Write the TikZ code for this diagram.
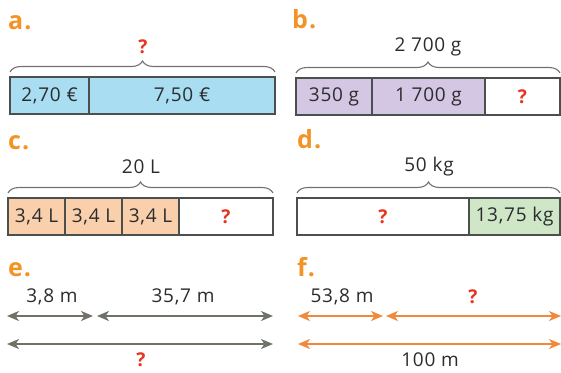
\documentclass[tikz,border=0pt]{standalone}
\usepackage{fontspec}
\setmainfont[LetterSpace=4]{Open Sans}
\usetikzlibrary{arrows.meta,positioning,decorations.pathreplacing}
\definecolor{BarInk}{HTML}{4B4F4E}
\definecolor{BarText}{HTML}{2A2C2E}
\definecolor{BarOrange}{HTML}{F39325}
\definecolor{BarRed}{HTML}{E8331F}
\definecolor{BarBlue}{HTML}{A9DDF2}
\definecolor{BarLilac}{HTML}{D4C7E3}
\definecolor{BarPeach}{HTML}{F9CFAC}
\definecolor{BarGreen}{HTML}{CFE7C6}
\definecolor{LineGrey}{HTML}{6E7368}
\definecolor{LineOrange}{HTML}{F0893A}
\tikzset{
  every node/.style={font=\fontsize{19}{22}\selectfont, text=BarText, inner sep=1pt},
  segment/.style={draw=BarInk, line width=1.2pt, minimum height=37pt, inner sep=0pt, outer sep=0pt, anchor=north west},
  barbrace/.style={draw=BarInk!80, line width=1.1pt, decorate, decoration={brace, amplitude=11pt}},
  panellabel/.style={text=BarOrange, font=\fontsize{25}{28}\selectfont\bfseries, anchor=base west, inner sep=0pt},
  query/.style={text=BarRed, font=\fontsize{19}{22}\selectfont\bfseries},
  span/.style={{Stealth[length=12pt,width=10pt,inset=3.5pt]}-{Stealth[length=12pt,width=10pt,inset=3.5pt]}, line width=1.8pt},
}
\begin{document}
\begin{tikzpicture}[x=1pt,y=-1pt]
  \useasboundingbox (0,0) rectangle (561,372);
  % Panel a: two known parts, total asked
  \node[panellabel] (la) at (8,29) {a.};
  \node[segment, fill=BarBlue, minimum width=79] (a1) at (10,77) {2,70 €};
  \node[segment, fill=BarBlue, minimum width=186, right=0pt of a1] (a2) {7,50 €};
  \draw[barbrace] ([yshift=5pt]a1.north west) -- ([yshift=5pt]a2.north east);
  \node[query] (atop) at (143,47) {?};
  % Panel b: total known, last part asked
  \node[panellabel] (lb) at (292,28) {b.};
  \node[segment, fill=BarLilac, minimum width=76] (b1) at (296,78) {350 g};
  \node[segment, fill=BarLilac, minimum width=113, right=0pt of b1] (b2) {1 700 g};
  \node[segment, fill=white, minimum width=75, right=0pt of b2] (b3) {\textcolor{BarRed}{\bfseries ?}};
  \draw[barbrace] ([yshift=5pt]b1.north west) -- ([yshift=5pt]b3.north east);
  \node (btop) at (428,47) {2 700 g};
  % Panel c: three equal parts and a rest
  \node[panellabel] (lc) at (8,149) {c.};
  \foreach \i in {0,1,2} {
    \node[segment, fill=BarPeach, minimum width=57] (c\i) at (8+57*\i,198) {3,4 L};
  }
  \node[segment, fill=white, minimum width=94, right=0pt of c2] (c3) {\textcolor{BarRed}{\bfseries ?}};
  \draw[barbrace] ([yshift=5pt]c0.north west) -- ([yshift=5pt]c3.north east);
  \node (ctop) at (141,167) {20 L};
  % Panel d: first part asked
  \node[panellabel] (ld) at (297,148) {d.};
  \node[segment, fill=white, minimum width=172] (d1) at (297,198) {\textcolor{BarRed}{\bfseries ?}};
  \node[segment, fill=BarGreen, minimum width=91, right=0pt of d1] (d2) {13,75 kg};
  \draw[barbrace] ([yshift=5pt]d1.north west) -- ([yshift=5pt]d2.north east);
  \node (dtop) at (429,167) {50 kg};
  % Panel e: two lengths, whole asked
  \node[panellabel] (le) at (8,276) {e.};
  \coordinate (e0) at (7,316);
  \coordinate (e1) at (93,316);
  \coordinate (e2) at (97,316);
  \coordinate (e3) at (273,316);
  \coordinate (e4) at (7,344);
  \coordinate (e5) at (273,344);
  \draw[span, LineGrey] (e0) -- (e1);
  \draw[span, LineGrey] (e2) -- (e3);
  \draw[span, LineGrey] (e4) -- (e5);
  \node (ea) at (52,297) {3,8 m};
  \node (eb) at (183,297) {35,7 m};
  \node[query] (ec) at (141,360) {?};
  % Panel f: whole known, second length asked
  \node[panellabel] (lf) at (297,276) {f.};
  \coordinate (f0) at (298,316);
  \coordinate (f1) at (383,316);
  \coordinate (f2) at (386,316);
  \coordinate (f3) at (561,316);
  \coordinate (f4) at (298,344);
  \coordinate (f5) at (561,344);
  \draw[span, LineOrange] (f0) -- (f1);
  \draw[span, LineOrange] (f2) -- (f3);
  \draw[span, LineOrange] (f4) -- (f5);
  \node (fa) at (342,297) {53,8 m};
  \node[query] (fb) at (473,297) {?};
  \node (fc) at (430,360) {100 m};
\end{tikzpicture}
\end{document}
